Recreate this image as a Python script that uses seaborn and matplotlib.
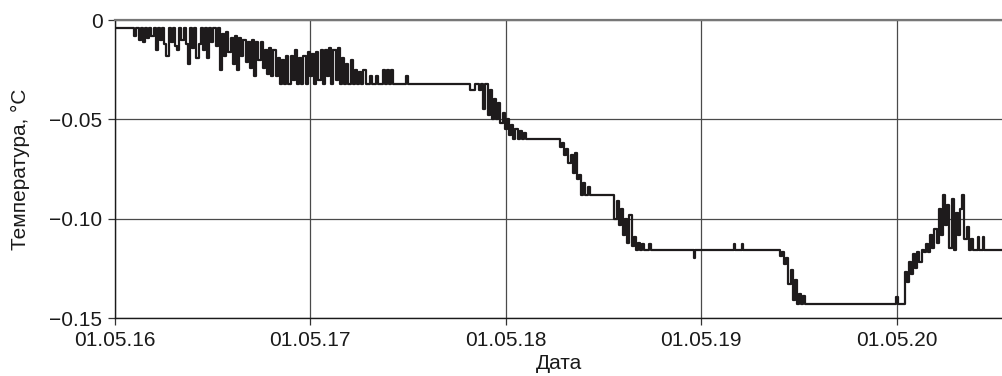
import numpy as np
import pandas as pd
import matplotlib
matplotlib.use("Agg")
import matplotlib.pyplot as plt
import seaborn as sns

# ---------------- data ----------------
start_date = "2016-05-01"
sample_step_days = 4  # spacing of samples inside the noisy runs

# isolated breakpoints (days since 01.05.16, temperature °C)
flat_days = [0, 660, 1079, 1081, 1083, 1154, 1156, 1158, 1169, 1171, 1173,
             1458, 1460, 1462, 1473, 1610, 1612, 1614, 1619, 1621, 1623, 1659]
flat_temp = [-0.004, -0.032, -0.116, -0.120, -0.116, -0.116, -0.113, -0.116, -0.116, -0.113, -0.116,
             -0.143, -0.1395, -0.143, -0.143, -0.116, -0.109, -0.116, -0.116, -0.109, -0.116, -0.116]

run1_start = 32
run1_temp = [
    -0.004, -0.008, -0.004, -0.010, -0.004, -0.011, -0.004, -0.009, -0.004, -0.008,
    -0.004, -0.015, -0.004, -0.010, -0.004, -0.012, -0.018, -0.004, -0.011, -0.004,
    -0.013, -0.015, -0.004, -0.010, -0.004, -0.012, -0.022, -0.004, -0.014, -0.004,
    -0.019, -0.012, -0.004, -0.015, -0.004, -0.019, -0.004, -0.011, -0.004, -0.013,
    -0.004, -0.025, -0.007, -0.018, -0.006, -0.016, -0.009, -0.022, -0.008, -0.025,
    -0.009, -0.018, -0.010, -0.021, -0.011, -0.024, -0.010, -0.028, -0.011, -0.020,
    -0.011, -0.024, -0.015, -0.027, -0.014, -0.028, -0.015, -0.028, -0.019, -0.032,
    -0.020, -0.032, -0.018, -0.032, -0.018, -0.030, -0.015, -0.032, -0.019, -0.032,
    -0.018, -0.032, -0.016, -0.028, -0.017, -0.032, -0.016, -0.030, -0.015, -0.032,
    -0.015, -0.028, -0.014, -0.032, -0.015, -0.030, -0.014, -0.032, -0.019, -0.032,
    -0.022, -0.032, -0.020, -0.032, -0.025, -0.032, -0.026, -0.032, -0.025, -0.032,
    -0.032, -0.028, -0.032, -0.032, -0.028, -0.032, -0.032, -0.025, -0.032, -0.025,
    -0.032, -0.025, -0.032, -0.032, -0.032, -0.032, -0.032, -0.032, -0.028, -0.032,
]

run2_start = 664
run2_temp = [
    -0.035, -0.035, -0.032, -0.032, -0.035, -0.032, -0.045, -0.032, -0.048, -0.035,
    -0.050, -0.040, -0.050, -0.042, -0.052, -0.047, -0.055, -0.050, -0.058, -0.053,
    -0.060, -0.055, -0.060, -0.056, -0.060, -0.057, -0.060,
]

run3_start = 827
run3_temp = [
    -0.060, -0.064, -0.062, -0.068, -0.065, -0.072, -0.068, -0.077, -0.067, -0.080,
    -0.078, -0.088, -0.082, -0.088, -0.084, -0.088,
]

run4_start = 929
run4_temp = [
    -0.088, -0.100, -0.091, -0.103, -0.095, -0.108, -0.100, -0.112, -0.098, -0.114,
    -0.109, -0.116, -0.112, -0.116, -0.113, -0.116, -0.116, -0.113, -0.116,
]

run5_start = 1238
run5_temp = [
    -0.116, -0.119, -0.117, -0.123, -0.120, -0.133, -0.126, -0.141, -0.131, -0.143,
    -0.138, -0.143, -0.139, -0.143,
]

run6_start = 1475
run6_temp = [
    -0.127, -0.132, -0.122, -0.128, -0.118, -0.125, -0.117, -0.122, -0.116, -0.117,
    -0.113, -0.117, -0.108, -0.115, -0.105, -0.112, -0.095, -0.108, -0.088, -0.103,
    -0.093, -0.115, -0.090, -0.116, -0.097, -0.108, -0.095, -0.088, -0.110, -0.104,
    -0.116, -0.110, -0.116,
]

y_ticks = [0.0, -0.05, -0.10, -0.15]
y_tick_labels = ["0", "\u22120.05", "\u22120.10", "\u22120.15"]
x_tick_dates = ["2016-05-01", "2017-05-01", "2018-05-01", "2019-05-01", "2020-05-01"]
x_tick_labels = ["01.05.16", "01.05.17", "01.05.18", "01.05.19", "01.05.20"]
x_label = "Дата"
y_label = "Температура, °C"

# ---------------- assemble ----------------
days = list(flat_days)
temps = list(flat_temp)
for s, vals in [(run1_start, run1_temp), (run2_start, run2_temp), (run3_start, run3_temp),
                (run4_start, run4_temp), (run5_start, run5_temp), (run6_start, run6_temp)]:
    days += [s + sample_step_days * i for i in range(len(vals))]
    temps += vals

df = pd.DataFrame({"day": days, "temp": temps}).sort_values("day")
df["date"] = pd.Timestamp(start_date) + pd.to_timedelta(df["day"], unit="D")

# ---------------- plot ----------------
sns.set_theme(style="white")
plt.rcParams["font.family"] = ["Liberation Sans", "DejaVu Sans"]

fig = plt.figure(figsize=(10.03, 3.76), dpi=100)
ax = fig.add_axes([115 / 1003, 1 - 318 / 376, 1 - 115 / 1003, (318 - 20) / 376])

sns.lineplot(data=df, x="date", y="temp", ax=ax, estimator=None, sort=True,
             color="#1e1b1c", linewidth=1.6, drawstyle="steps-post")

ax.set_xlim(pd.Timestamp(start_date), pd.Timestamp(start_date) + pd.Timedelta(days=1659))
ax.set_ylim(-0.15, 0.0)

ax.set_xticks(pd.to_datetime(x_tick_dates))
ax.set_xticklabels(x_tick_labels)
ax.set_yticks(y_ticks)
ax.set_yticklabels(y_tick_labels)

ax.grid(True, color="#4a4a4a", linewidth=0.9)
ax.set_axisbelow(True)

for side in ["left", "bottom"]:
    ax.spines[side].set_visible(True)
    ax.spines[side].set_color("#1a1a1a")
    ax.spines[side].set_linewidth(1.0)
ax.spines["right"].set_visible(False)
ax.spines["top"].set_visible(True)
ax.spines["top"].set_color("#777777")
ax.spines["top"].set_linewidth(1.6)

ax.tick_params(axis="both", which="major", direction="out", length=5, width=0.9,
               color="#333333", labelsize=15, labelcolor="#1a1a1a")
ax.tick_params(axis="x", pad=4)
ax.tick_params(axis="y", pad=4)
ax.xaxis.set_tick_params(bottom=True)
ax.yaxis.set_tick_params(left=True)

ax.set_xlabel(x_label, fontsize=15, color="#1a1a1a", labelpad=3)
ax.set_ylabel(y_label, fontsize=15, color="#1a1a1a", labelpad=14)

fig.savefig("out.png", dpi=100)
